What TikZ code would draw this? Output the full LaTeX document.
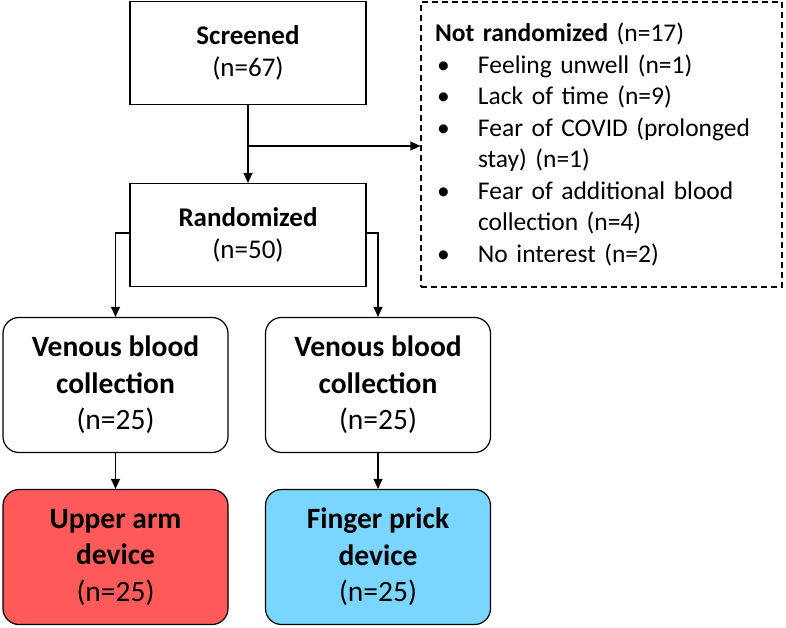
\documentclass[tikz,border=0pt]{standalone}
\usepackage{fontspec}
\setmainfont{Carlito}
\usetikzlibrary{arrows.meta}

\tikzset{
  box/.style={draw, line width=1.2pt, align=center, inner sep=0pt,
              minimum width=236pt, minimum height=103pt,
              font=\fontsize{27}{32}\selectfont},
  roundbox/.style={draw, line width=1.2pt, align=center, inner sep=0pt,
              rounded corners=16pt, minimum width=225pt, minimum height=135pt,
              font=\fontsize{29.5}{36.5}\selectfont},
  flow/.style={line width=1.2pt, -{Triangle[length=10pt,width=9pt]}}
}
\definecolor{armred}{RGB}{255,90,90}
\definecolor{fingerblue}{RGB}{122,213,255}

\begin{document}
\begin{tikzpicture}[x=1pt, y=1pt]
\useasboundingbox (0,0) rectangle (786,-627);

%% 上面两个方框
\node[box] (screened) at (248,-53) {\textbf{Screened}\\(n=67)};
\node[box] (randomized) at (248,-235) {\textbf{Randomized}\\(n=50)};

%% 虚线框
\node[draw, dash pattern=on 6pt off 4pt, line width=1.2pt, inner xsep=14pt, inner ysep=0pt,
      minimum width=361pt, minimum height=285pt, text width=333pt, align=left,
      font=\fontsize{25.5}{31.5}\selectfont] (notrand) at (601.5,-144.5)
  {\textbf{Not randomized} (n=17)\\
   \makebox[43pt][l]{\hspace{2pt}\textbullet}Feeling unwell (n=1)\\
   \makebox[43pt][l]{\hspace{2pt}\textbullet}Lack of time (n=9)\\
   \makebox[43pt][l]{\hspace{2pt}\textbullet}Fear of COVID (prolonged\\
   \hspace*{43pt}stay) (n=1)\\
   \makebox[43pt][l]{\hspace{2pt}\textbullet}Fear of additional blood\\
   \hspace*{43pt}collection (n=4)\\
   \makebox[43pt][l]{\hspace{2pt}\textbullet}No interest (n=2)};

%% 圆角方框
\node[roundbox] (venousA) at (115.5,-385) {\textbf{Venous blood}\\\textbf{collection}\\(n=25)};
\node[roundbox] (venousB) at (378,-385) {\textbf{Venous blood}\\\textbf{collection}\\(n=25)};
\node[roundbox, fill=armred] (upperarm) at (115.5,-557) {\textbf{Upper arm}\\\textbf{device}\\(n=25)};
\node[roundbox, fill=fingerblue] (fingerprick) at (378,-557) {\textbf{Finger prick}\\\textbf{device}\\(n=25)};

\coordinate (split) at (248,-146);

\draw[flow] (screened) -- (randomized);
\draw[flow] (split) -- (split -| notrand.west);
\draw[flow] ([yshift=2pt]randomized.west) -| (venousA.north);
\draw[flow] ([yshift=2pt]randomized.east) -| (venousB.north);
\draw[flow] (venousA) -- (upperarm);
\draw[flow] (venousB) -- (fingerprick);
\end{tikzpicture}
\end{document}
